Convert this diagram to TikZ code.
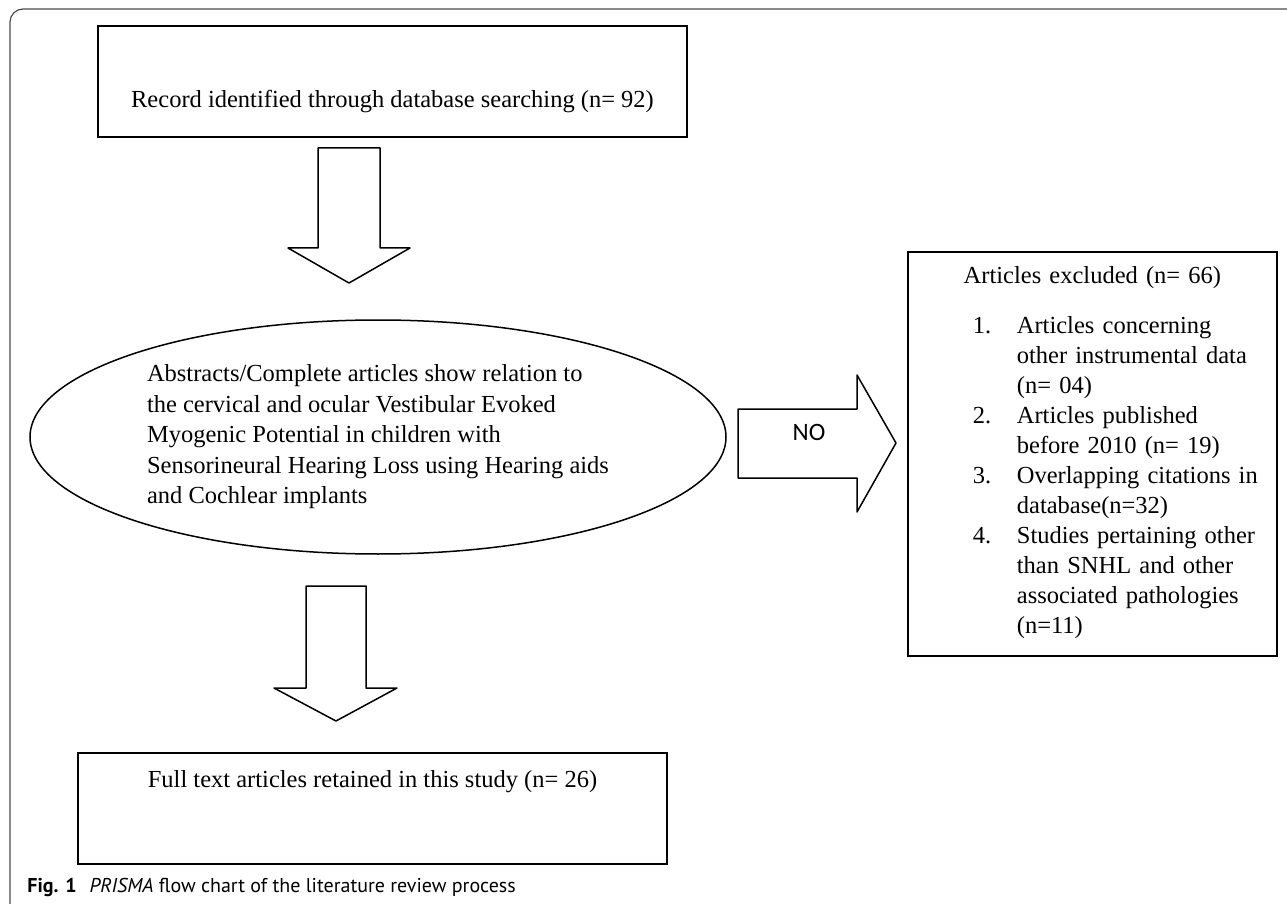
\documentclass[tikz,border=0pt]{standalone}
\usepackage{tkz-euclide}
\usepackage{fontspec}
\setmainfont{Liberation Serif}
\newfontfamily\capfont{PT Sans}
\newfontfamily\labelfont{Carlito}
\usetikzlibrary{shapes.geometric}

\begin{document}
\begin{tikzpicture}[
    x=0.5pt, y=-0.5pt,
    box/.style={draw, line width=0.9pt, inner sep=0pt, anchor=base,
      minimum width=294.5pt, font=\fontsize{12.25}{15}\selectfont},
    oval/.style={draw, ellipse, line width=0.75pt, inner sep=0pt,
      minimum width=348pt, minimum height=117pt, align=left,
      font=\fontsize{12.25}{15.25}\selectfont},
    blockarrow/.style={line width=0.75pt}]
    % 固定图幅
    \useasboundingbox (0,0) rectangle (1287,904);
    % 外框, 左上角为圆角
    \draw[gray!60!black, line width=0.6pt, rounded corners=6.5pt] (10,904) |- (1287,9);
    % 检索记录框
    \node[box, text height=41pt, text depth=14.5pt] (rec) at (392.5,108)
      {Record identified through database searching (n= 92)\hspace{12pt}};
    % 第一个向下空心箭头
    \tkzDefPoints{318/148/P1, 380/148/P2, 380/248/P3, 410/248/P4, 349/283/P5, 288/248/P6, 318/248/P7}
    \tkzDrawPolygon[blockarrow](P1,P2,P3,P4,P5,P6,P7)
    % 椭圆: 筛选条件
    \node[oval] (abs) at (378,437)
      {Abstracts/Complete articles show relation to\\
       the cervical and ocular Vestibular Evoked\\
       Myogenic Potential in children with\\
       Sensorineural Hearing Loss using Hearing aids\\
       and Cochlear implants};
    % 向右的 NO 箭头
    \tkzDefPoints{738/409/N1, 857/409/N2, 857/375/N3, 896/443/N4, 857/512/N5, 857/478/N6, 738/478/N7}
    \tkzDrawPolygon[blockarrow](N1,N2,N3,N4,N5,N6,N7)
    \node[font=\labelfont\fontsize{12.5}{15}\selectfont] (no) at (809,432) {NO};
    % 排除文献框
    \node[draw, line width=0.9pt, inner sep=0pt, anchor=north west, text width=184.5pt,
      align=left, font=\fontsize{12.25}{15}\selectfont] (excl) at (907,251)
      {\rule{0pt}{16pt}\makebox[\hsize]{Articles excluded (n= 66)}\\[10pt]
       \hspace*{32.5pt}\begin{tabular}[t]{@{}p{22pt}@{}l@{}}
       1. & Articles concerning\\
          & other instrumental data\\
          & (n= 04)\\
       2. & Articles published\\
          & before 2010 (n= 19)\\
       3. & Overlapping citations in\\
          & database(n=32)\\
       4. & Studies pertaining other\\
          & than SNHL and other\\
          & associated pathologies\\
          & (n=11)\rule[-11pt]{0pt}{11pt}
       \end{tabular}};
    % 第二个向下空心箭头
    \tkzDefPoints{306/586/Q1, 366/586/Q2, 366/688/Q3, 397/688/Q4, 336/721/Q5, 274/688/Q6, 306/688/Q7}
    \tkzDrawPolygon[blockarrow](Q1,Q2,Q3,Q4,Q5,Q6,Q7)
    % 纳入文献框
    \node[box, text height=17pt, text depth=38.5pt] (full) at (372.5,787)
      {Full text articles retained in this study (n= 26)};
    % 图题
    \node[anchor=base west, inner sep=0pt, font=\capfont\fontsize{10}{12}\selectfont] (cap) at (27,892)
      {\textbf{Fig. 1}\hspace{6.5pt}\textit{PRISMA} flow chart of the literature review process};
\end{tikzpicture}
\end{document}
